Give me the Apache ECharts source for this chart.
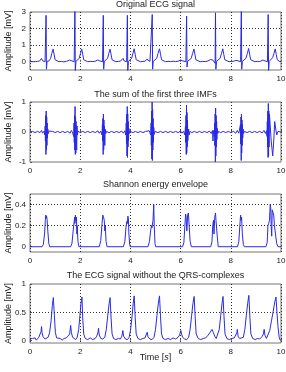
<!DOCTYPE html>
<html>
<head>
<meta charset="utf-8">
<script src="https://cdn.jsdelivr.net/npm/echarts@6/dist/echarts.min.js"></script>
<style>
  html, body { margin: 0; padding: 0; background: #fff; }
  #main { width: 286px; height: 372px; }
</style>
</head>
<body>
<div id="main"></div>
<script>
// panel titles
const titles = [
  "Original ECG signal",
  "The sum of the first three IMFs",
  "Shannon energy envelope",
  "The ECG signal without the QRS-complexes"
];

const xTicks = [0, 2, 4, 6, 8, 10];
const yRanges = [[-0.5, 3], [-1, 1], [-0.05, 0.5], [-0.04, 1]];
const yTicks = [[0, 1, 2, 3], [-1, 0, 1], [0, 0.2, 0.4], [0, 0.5, 1]];
const yGridLines = [[1, 2], [], [0.2, 0.4], [0.5]];

// [time s, amplitude mV]
const ecgOriginal = [
  [0.00,0.02],[0.08,0.0],[0.15,0.03],[0.22,0.01],[0.30,0.02],[0.38,0.04],
  [0.42,0.08],[0.46,0.2],[0.50,0.06],[0.55,0.02],[0.60,0.0],[0.625,-0.08],[0.64,2.8],[0.655,-0.45],[0.68,0.02],[0.76,0.05],[0.82,0.2],[0.87,0.5],[0.92,0.76],[0.96,0.45],[1.00,0.12],[1.06,0.03],[1.15,0.0],[1.25,0.02],[1.35,-0.01],[1.45,0.02],[1.52,0.04],
  [1.58,0.1],[1.63,0.2],[1.67,0.05],[1.72,0.02],[1.76,0.0],[1.775,-0.1],[1.79,3.3],[1.805,-0.6],[1.83,0.02],[1.90,0.05],[1.96,0.2],[2.01,0.5],[2.06,0.77],[2.10,0.45],[2.14,0.12],[2.20,0.03],[2.30,0.0],[2.40,0.02],[2.50,0.01],[2.60,0.03],[2.66,0.05],
  [2.70,0.1],[2.74,0.17],[2.78,0.05],[2.85,0.02],[2.89,0.0],[2.905,-0.1],[2.92,2.8],[2.935,-0.45],[2.96,0.02],[3.03,0.05],[3.09,0.2],[3.14,0.5],[3.19,0.76],[3.23,0.45],[3.27,0.12],[3.33,0.03],[3.42,0.0],[3.52,0.02],[3.60,0.03],
  [3.66,0.08],[3.71,0.2],[3.75,0.05],[3.80,0.02],[3.85,0.0],[3.865,-0.1],[3.88,2.8],[3.895,-0.6],[3.92,0.02],[3.99,0.05],[4.05,0.2],[4.10,0.5],[4.15,0.78],[4.19,0.45],[4.23,0.12],[4.30,0.03],[4.40,0.0],[4.50,0.02],[4.58,0.03],
  [4.62,0.08],[4.66,0.15],[4.70,0.05],[4.78,0.02],[4.84,0.0],[4.855,-0.1],[4.87,2.85],[4.885,-0.45],[4.91,0.02],[4.98,0.05],[5.05,0.2],[5.10,0.5],[5.16,0.78],[5.20,0.45],[5.24,0.12],[5.30,0.03],[5.40,0.0],[5.50,0.02],[5.60,0.01],[5.70,0.03],[5.80,0.01],[5.90,0.03],[5.97,0.06],
  [6.00,0.1],[6.04,0.17],[6.08,0.05],[6.15,0.02],[6.21,0.0],[6.225,-0.1],[6.24,2.75],[6.255,-0.32],[6.28,0.02],[6.35,0.05],[6.42,0.2],[6.48,0.5],[6.53,0.77],[6.57,0.45],[6.61,0.12],[6.68,0.03],[6.78,0.0],[6.88,0.02],[6.98,0.01],[7.08,0.04],[7.15,0.08],
  [7.20,0.14],[7.25,0.17],[7.30,0.08],[7.34,0.02],[7.36,0.0],[7.375,-0.1],[7.39,2.95],[7.405,-0.45],[7.43,0.02],[7.50,0.05],[7.57,0.2],[7.63,0.5],[7.68,0.78],[7.72,0.45],[7.76,0.12],[7.83,0.03],[7.93,0.0],[8.03,0.02],[8.12,0.03],
  [8.20,0.08],[8.25,0.2],[8.29,0.05],[8.35,0.02],[8.39,0.0],[8.405,-0.1],[8.42,3.3],[8.435,-0.45],[8.46,0.02],[8.53,0.05],[8.60,0.2],[8.66,0.5],[8.71,0.8],[8.75,0.45],[8.79,0.12],[8.86,0.03],[8.96,0.0],[9.06,0.02],[9.15,0.01],[9.22,0.04],
  [9.28,0.1],[9.32,0.2],[9.36,0.05],[9.42,0.02],[9.46,0.0],[9.475,-0.1],[9.49,2.85],[9.505,-0.6],[9.53,0.02],[9.60,0.08],[9.67,0.25],[9.72,0.5],[9.77,0.77],[9.81,0.45],[9.85,0.12],[9.90,0.03],[9.96,0.0],[10.00,0.02]
];

const imfSum = [
  [0.00,0.0],[0.10,0.02],[0.20,-0.02],[0.30,0.02],[0.40,-0.02],[0.46,0.05],[0.50,-0.04],[0.56,0.03],
  [0.59,-0.1],[0.605,0.2],[0.615,-0.3],[0.625,0.55],[0.635,-0.75],[0.645,0.7],[0.655,-0.6],[0.665,0.5],[0.675,-0.45],[0.685,0.3],[0.695,-0.2],[0.71,0.1],[0.73,-0.05],[0.76,0.03],
  [0.80,-0.02],[0.90,0.02],[1.00,-0.02],[1.10,0.02],[1.20,-0.02],[1.30,0.02],[1.40,-0.02],[1.50,0.02],[1.60,-0.04],[1.65,0.05],[1.70,-0.03],
  [1.74,-0.15],[1.755,0.3],[1.765,-0.35],[1.775,0.55],[1.785,-0.6],[1.795,0.85],[1.805,-0.75],[1.815,0.5],[1.825,-0.7],[1.835,0.35],[1.845,-0.3],[1.86,-0.6],[1.875,0.2],[1.89,-0.1],[1.91,0.03],
  [2.00,-0.02],[2.10,0.02],[2.20,-0.02],[2.30,0.02],[2.40,-0.02],[2.50,0.02],[2.60,-0.02],[2.70,0.04],[2.76,-0.04],[2.82,0.03],
  [2.87,-0.1],[2.885,0.25],[2.895,-0.3],[2.905,0.45],[2.915,-0.75],[2.925,0.6],[2.935,-0.6],[2.945,0.4],[2.955,-0.35],[2.965,0.2],[2.98,-0.45],[2.995,0.1],[3.02,-0.05],[3.05,0.02],
  [3.15,-0.02],[3.25,0.02],[3.35,-0.02],[3.45,0.02],[3.55,-0.02],[3.65,0.03],[3.72,-0.04],[3.78,0.04],
  [3.82,-0.1],[3.835,0.3],[3.845,-0.4],[3.855,0.6],[3.865,-0.8],[3.875,0.85],[3.885,-0.85],[3.895,0.6],[3.905,-0.5],[3.915,0.35],[3.925,-0.3],[3.94,0.12],[3.96,-0.05],[3.99,0.02],
  [4.10,-0.02],[4.20,0.02],[4.30,-0.02],[4.40,0.02],[4.50,-0.02],[4.60,0.02],[4.67,-0.04],[4.75,0.04],
  [4.81,-0.1],[4.825,0.3],[4.835,-0.45],[4.845,0.7],[4.855,-0.9],[4.865,1.0],[4.875,-0.95],[4.885,0.75],[4.895,-0.6],[4.905,0.45],[4.915,-0.35],[4.93,0.15],[4.95,-0.08],[4.98,0.02],
  [5.10,-0.02],[5.20,0.02],[5.30,-0.02],[5.40,0.02],[5.50,-0.02],[5.60,0.02],[5.70,-0.02],[5.80,0.02],[5.90,-0.02],[6.00,0.03],[6.06,-0.04],[6.12,0.03],[6.17,-0.1],
  [6.195,0.2],[6.205,-0.35],[6.215,0.55],[6.225,-0.75],[6.235,0.9],[6.245,-0.7],[6.255,0.65],[6.265,-0.5],[6.275,0.4],[6.285,-0.3],[6.30,-0.35],[6.32,0.1],[6.34,-0.1],[6.37,0.02],
  [6.45,-0.02],[6.55,0.02],[6.65,-0.02],[6.75,0.02],[6.85,-0.02],[6.95,0.02],[7.05,-0.02],[7.15,0.03],[7.22,-0.05],[7.27,0.05],[7.29,-0.3],[7.31,0.05],
  [7.345,-0.15],[7.355,0.3],[7.365,-0.45],[7.375,0.6],[7.385,-1.0],[7.395,0.8],[7.405,-0.8],[7.415,0.55],[7.425,-0.5],[7.435,0.35],[7.445,-0.25],[7.46,0.12],[7.48,-0.05],[7.51,0.02],
  [7.60,-0.02],[7.70,0.02],[7.80,-0.02],[7.90,0.02],[8.00,-0.02],[8.10,0.02],[8.20,-0.04],[8.26,0.05],[8.32,-0.04],
  [8.375,-0.1],[8.385,0.25],[8.395,-0.4],[8.405,0.5],[8.415,-0.95],[8.425,0.6],[8.435,-0.7],[8.445,0.4],[8.455,-0.45],[8.465,0.25],[8.475,-0.2],[8.49,0.1],[8.51,-0.05],[8.54,0.02],
  [8.65,-0.02],[8.75,0.02],[8.85,-0.02],[8.95,0.02],[9.05,-0.02],[9.15,0.02],[9.25,-0.03],[9.32,0.05],[9.38,-0.05],[9.42,0.04],
  [9.445,-0.15],[9.455,0.35],[9.465,-0.5],[9.475,0.7],[9.485,-0.85],[9.495,0.95],[9.505,-0.8],[9.515,0.7],[9.525,-0.5],[9.54,0.6],[9.57,0.2],[9.61,-0.3],[9.67,-0.8],[9.71,-0.3],[9.75,0.35],[9.79,0.1],[9.83,-0.1],[9.88,0.02],[9.94,-0.02],[10.00,0.0]
];

const energyEnvelope = [
  [0.00,0.0],[0.48,0.0],[0.53,0.02],[0.58,0.12],[0.61,0.25],[0.63,0.3],[0.645,0.27],[0.66,0.29],[0.68,0.26],[0.71,0.15],[0.75,0.03],[0.79,0.0],
  [1.62,0.0],[1.67,0.03],[1.72,0.15],[1.76,0.24],[1.78,0.28],[1.79,0.22],[1.81,0.3],[1.83,0.25],[1.85,0.28],[1.87,0.12],[1.88,0.2],[1.91,0.05],[1.95,0.0],
  [2.76,0.0],[2.82,0.06],[2.87,0.22],[2.90,0.3],[2.93,0.28],[2.96,0.25],[2.98,0.15],[3.00,0.2],[3.03,0.05],[3.07,0.0],
  [3.72,0.0],[3.78,0.05],[3.83,0.2],[3.86,0.24],[3.88,0.22],[3.90,0.29],[3.92,0.27],[3.94,0.12],[3.97,0.02],[4.00,0.0],
  [4.70,0.0],[4.76,0.05],[4.81,0.16],[4.84,0.2],[4.86,0.18],[4.90,0.25],[4.93,0.4],[4.95,0.2],[4.98,0.03],[5.01,0.0],
  [6.08,0.0],[6.13,0.04],[6.17,0.2],[6.20,0.31],[6.22,0.28],[6.25,0.15],[6.28,0.3],[6.31,0.32],[6.34,0.2],[6.38,0.05],[6.43,0.0],
  [7.20,0.0],[7.25,0.05],[7.28,0.2],[7.31,0.25],[7.33,0.12],[7.36,0.28],[7.39,0.32],[7.41,0.25],[7.43,0.26],[7.46,0.1],[7.50,0.0],
  [8.27,0.0],[8.32,0.05],[8.36,0.2],[8.39,0.3],[8.41,0.25],[8.43,0.28],[8.46,0.12],[8.50,0.02],[8.54,0.0],
  [9.40,0.0],[9.45,0.04],[9.48,0.2],[9.51,0.22],[9.54,0.25],[9.57,0.4],[9.59,0.37],[9.61,0.2],[9.63,0.1],[9.65,0.35],[9.68,0.35],[9.71,0.3],[9.74,0.2],[9.78,0.12],[9.83,0.03],[9.88,0.0],[10.00,0.0]
];

const ecgNoQrs = [
  [0.00,0.03],[0.05,0.0],[0.10,0.04],[0.15,0.02],[0.20,0.05],[0.25,0.01],[0.30,0.04],[0.35,0.06],[0.40,0.09],[0.44,0.16],[0.46,0.25],[0.48,0.14],[0.52,0.07],[0.56,0.05],[0.60,0.03],[0.66,0.03],[0.72,0.06],[0.78,0.14],[0.84,0.35],[0.89,0.62],[0.93,0.76],[0.97,0.45],[1.01,0.15],[1.06,0.05],[1.12,0.02],[1.20,0.04],[1.28,0.01],[1.36,0.04],[1.44,0.05],[1.52,0.08],
  [1.58,0.12],[1.62,0.27],[1.65,0.14],[1.70,0.06],[1.76,0.03],[1.82,0.02],[1.88,0.06],[1.94,0.2],[1.99,0.45],[2.03,0.65],[2.07,0.77],[2.10,0.4],[2.14,0.12],[2.20,0.04],[2.30,0.02],[2.40,0.05],[2.50,0.02],[2.60,0.04],
  [2.66,0.08],[2.71,0.15],[2.73,0.22],[2.76,0.1],[2.82,0.04],[2.90,0.03],[2.98,0.06],[3.04,0.2],[3.10,0.45],[3.15,0.65],[3.19,0.76],[3.23,0.4],[3.27,0.12],[3.33,0.04],[3.42,0.02],[3.52,0.04],[3.60,0.03],
  [3.66,0.08],[3.70,0.18],[3.73,0.08],[3.80,0.03],[3.88,0.02],[3.95,0.06],[4.01,0.2],[4.07,0.45],[4.11,0.65],[4.15,0.79],[4.19,0.42],[4.23,0.12],[4.30,0.04],[4.40,0.02],[4.50,0.04],[4.58,0.05],
  [4.63,0.08],[4.67,0.15],[4.70,0.07],[4.78,0.03],[4.86,0.02],[4.94,0.06],[5.00,0.2],[5.06,0.45],[5.11,0.65],[5.16,0.79],[5.20,0.42],[5.24,0.12],[5.30,0.04],[5.40,0.02],[5.50,0.04],[5.60,0.02],[5.70,0.05],[5.80,0.03],[5.90,0.06],
  [5.96,0.1],[6.01,0.18],[6.04,0.12],[6.08,0.06],[6.16,0.03],[6.24,0.02],[6.32,0.06],[6.38,0.2],[6.44,0.45],[6.49,0.65],[6.54,0.78],[6.58,0.42],[6.62,0.12],[6.70,0.04],[6.80,0.02],[6.90,0.04],[7.00,0.05],
  [7.10,0.1],[7.18,0.15],[7.25,0.2],[7.30,0.15],[7.36,0.08],[7.42,0.04],[7.48,0.06],[7.54,0.2],[7.60,0.45],[7.65,0.65],[7.69,0.78],[7.73,0.42],[7.77,0.12],[7.84,0.04],[7.94,0.02],[8.04,0.04],[8.14,0.05],
  [8.20,0.08],[8.24,0.14],[8.26,0.2],[8.29,0.08],[8.35,0.04],[8.42,0.02],[8.50,0.06],[8.56,0.2],[8.62,0.45],[8.67,0.65],[8.72,0.8],[8.76,0.42],[8.80,0.12],[8.87,0.04],[8.97,0.02],[9.07,0.04],[9.15,0.03],
  [9.24,0.07],[9.30,0.12],[9.33,0.2],[9.36,0.1],[9.42,0.04],[9.48,0.06],[9.55,0.18],[9.62,0.35],[9.69,0.52],[9.75,0.68],[9.80,0.77],[9.84,0.5],[9.88,0.25],[9.93,0.05],[9.97,0.01],[10.00,0.02]
];

const panels = [ecgOriginal, imfSum, energyEnvelope, ecgNoQrs];

// plot boxes (px)
const boxes = [
  { top: 12, height: 58 },
  { top: 102, height: 60 },
  { top: 194, height: 58 },
  { top: 284, height: 59 }
];
const titleY = [5, 95, 185, 276];

const myChart = echarts.init(document.getElementById("main"), null, { renderer: "canvas" });

const fontFam = "Liberation Sans, Arial, sans-serif";

const option = {
  animation: false,
  backgroundColor: "#fff",
  graphic: titles.map((t, i) => ({
    type: "text",
    x: 155.5,
    y: titleY[i],
    style: {
      text: t,
      fill: "#222",
      font: "9px " + fontFam,
      textAlign: "center",
      textVerticalAlign: "middle"
    }
  })),
  grid: boxes.map((b) => ({
    left: 30,
    right: 5,
    top: b.top,
    height: b.height,
    outerBoundsMode: "none",
    containLabel: false,
    show: true,
    borderColor: "#777",
    borderWidth: 1,
    backgroundColor: "transparent"
  })),
  xAxis: boxes.map((b, i) => ({
    type: "value",
    gridIndex: i,
    min: 0,
    max: 10,
    interval: 2,
    axisLine: { show: false },
    axisTick: { show: true, inside: true, length: 2, lineStyle: { color: "#555" } },
    axisLabel: { color: "#222", fontSize: 8, fontFamily: fontFam, margin: 5 },
    splitLine: { show: true, lineStyle: { color: "#333", type: [1, 2], width: 1 } },
    name: i === 3 ? "{n|Time [}{i|s}{n|]}" : "",
    nameLocation: "middle",
    nameGap: 10,
    nameMoveOverlap: false,
    nameTextStyle: {
      rich: {
        n: { fontSize: 9, fontFamily: fontFam, color: "#222" },
        i: { fontSize: 9, fontFamily: fontFam, color: "#222", fontStyle: "italic" }
      }
    }
  })),
  yAxis: boxes.map((b, i) => ({
    type: "value",
    gridIndex: i,
    min: yRanges[i][0],
    max: yRanges[i][1],
    axisLine: { show: false },
    axisTick: { show: true, inside: true, length: 2, customValues: yTicks[i], lineStyle: { color: "#555" } },
    axisLabel: { color: "#222", fontSize: 8, fontFamily: fontFam, margin: 4, customValues: yTicks[i] },
    splitLine: { show: false },
    name: "Amplitude [mV]",
    nameLocation: "middle",
    nameGap: 17,
    nameMoveOverlap: false,
    nameTextStyle: { fontSize: 9, fontFamily: fontFam, color: "#222" }
  })),
  series: panels.map((d, i) => ({
    type: "line",
    xAxisIndex: i,
    yAxisIndex: i,
    data: d,
    showSymbol: false,
    clip: true,
    lineStyle: { color: "#2a2ae6", width: 1 },
    markLine: {
      silent: true,
      symbol: "none",
      label: { show: false },
      lineStyle: { color: "#333", type: [1, 2], width: 1 },
      data: yGridLines[i].map((v) => ({ yAxis: v }))
    }
  }))
};

myChart.setOption(option);
</script>
</body>
</html>
